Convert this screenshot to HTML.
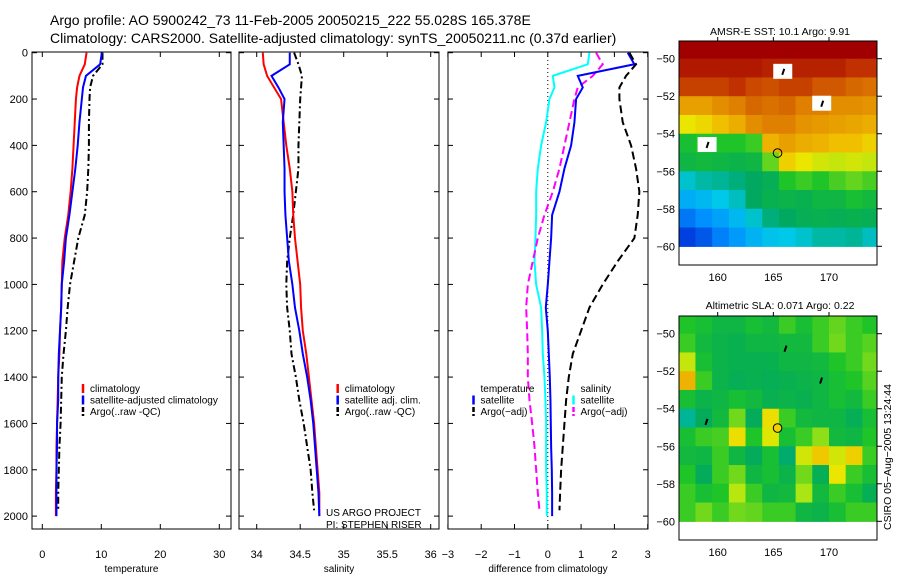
<!DOCTYPE html>
<html><head><meta charset="utf-8"><style>
body{margin:0;background:#fff;}
svg{display:block;font-family:"Liberation Sans",sans-serif;}
</style></head><body>
<svg id="c" width="900" height="580" xmlns="http://www.w3.org/2000/svg">
<text x="50" y="25" font-size="14">Argo profile: AO 5900242_73 11-Feb-2005 20050215_222 55.028S 165.378E</text>
<text x="50" y="43" font-size="14">Climatology: CARS2000. Satellite-adjusted climatology: synTS_20050211.nc (0.37d earlier)</text>
<text x="780" y="35" font-size="10.5" text-anchor="middle">AMSR-E SST: 10.1 Argo: 9.91</text>
<text x="780" y="309" font-size="10.5" text-anchor="middle">Altimetric SLA: 0.071 Argo: 0.22</text>
<text transform="translate(891,530) rotate(-90)" font-size="10.5">CSIRO 05−Aug−2005 13:24:44</text>
<text x="326" y="516" font-size="10">US ARGO PROJECT</text>
<text x="326" y="528" font-size="10">PI: STEPHEN RISER</text>
</svg>
<script>
const depths=[0,50,100,150,200,300,400,500,600,700,800,900,1000,1100,1200,1300,1400,1500,1600,1700,1800,1900,2000];
const tempClim=[7.5,7.2,6.3,5.9,5.7,5.5,5.3,5.1,4.8,4.4,3.8,3.4,3.3,3.2,3.0,2.9,2.7,2.6,2.5,2.4,2.4,2.3,2.3];
const tempSat=[10.1,9.8,7.4,6.9,6.7,6.3,6.0,5.6,5.1,4.6,4.0,3.7,3.3,3.2,3.0,2.8,2.7,2.7,2.5,2.5,2.4,2.4,2.4];
const tempArgo=[10.2,10.2,8.6,8.1,8.0,7.9,7.9,7.8,7.6,7.2,6.1,5.4,4.7,4.3,4.0,3.6,3.3,3.2,3.1,2.9,2.8,2.7,2.7];
const salClim=[34.07,34.08,34.12,34.2,34.28,34.31,34.34,34.38,34.41,34.42,34.44,34.47,34.5,34.51,34.53,34.57,34.6,34.63,34.66,34.68,34.70,34.72,34.72];
const salSat=[34.38,34.38,34.17,34.25,34.32,34.3,34.31,34.32,34.32,34.33,34.35,34.37,34.41,34.44,34.49,34.53,34.58,34.62,34.65,34.67,34.69,34.71,34.72];
const salArgo=[34.43,34.48,34.52,34.51,34.5,34.49,34.48,34.48,34.45,34.42,34.38,34.35,34.34,34.35,34.38,34.4,34.45,34.49,34.54,34.58,34.62,34.64,34.66];
const dTempSat=[2.4,2.6,0.9,1.05,0.85,0.8,0.7,0.5,0.35,0.13,0.1,0.05,0,-0.06,0,0.03,0.06,0.08,0.09,0.1,0.12,0.13,0.13];
const dTempArgo=[2.45,2.65,2.35,2.15,2.15,2.25,2.5,2.65,2.75,2.7,2.6,2.1,1.65,1.25,1.0,0.75,0.63,0.55,0.5,0.45,0.4,0.37,0.35];
const dSalSat=[1.25,1.2,0.15,0.2,0.05,-0.05,-0.2,-0.3,-0.35,-0.35,-0.37,-0.4,-0.35,-0.2,-0.17,-0.15,-0.1,-0.07,-0.05,-0.05,-0.05,-0.03,-0.03];
const dSalArgo=[1.45,1.65,1.35,0.9,0.8,0.65,0.5,0.35,0.15,-0.1,-0.3,-0.45,-0.6,-0.65,-0.62,-0.6,-0.6,-0.55,-0.47,-0.4,-0.35,-0.3,-0.25];
const depthTicks=[0,200,400,600,800,1000,1200,1400,1600,1800,2000];
const tempTicks=[0,10,20,30];
const salTicks=[34,34.5,35,35.5,36];
const diffTicks=[-3,-2,-1,0,1,2,3];
const latTicks=[-50,-52,-54,-56,-58,-60];
const lonTicks=[160,165,170];
const gridLats=[-49.5,-50.5,-51.5,-52.5,-53.5,-54.5,-55.5,-56.5,-57.5,-58.5,-59.5];
const gridLons=[157.25,158.75,160.25,161.75,163.25,164.75,166.25,167.75,169.25,170.75,172.25,173.75];
const sstGrid=[
[10,10,10,10,10,10,10,10,10,10,10,10],
[9.5,9.5,9.5,9.5,9.5,9.3,9.3,9.3,9.3,9.3,9,9],
[8.8,8.8,8.8,9,8.7,8.6,8.8,8.8,8.5,8.5,8.3,8.2],
[7.5,7.5,7.8,8,8.3,8.2,8.3,8,8,7.8,7.8,7.7],
[6.5,6.7,7,7.3,7.8,8,8,7.7,7.6,7.5,7.4,7.3],
[4.8,5,5,5,5.2,7.2,7.5,7.3,7.2,7,7,6.8],
[4.5,4.6,4.5,4.4,4.5,5.5,6.8,6.5,6.3,6.2,6.3,6.2],
[3.2,3.5,3.6,3.8,4,4.2,5,5.2,5,5.3,5.5,5.3],
[2.5,2.7,3,3.3,4,4.3,4.4,4.3,4.5,4.5,4.8,4.6],
[1.7,2,2.3,2.7,3.2,3.8,4,4.2,4.3,4.2,4.3,4.2],
[1,1.3,1.8,2.2,2.6,2.9,3,3.2,3.5,3.5,3.6,3.3]];
const slaGrid=[
[5,4.8,4.5,4.5,4.8,4.6,5.2,4.8,5.2,5.5,5.2,5],
[5.2,4.6,4.4,4.3,4.5,4.5,4.6,4.6,5.2,5.6,5.2,5.4],
[6.2,4.8,4.4,4.3,4.3,4.3,4.5,4.5,4.6,5,5.2,5.6],
[7.2,5.2,4.4,4.2,4.3,4.2,4.3,4.4,4.5,4.8,5,5.4],
[4.8,4.4,4.5,4.8,4.6,4.3,4.4,4.3,4.5,4.8,4.6,5.2],
[3.6,4.1,4.6,5.6,4.1,6.6,5.2,4.6,4.5,4.5,4.2,4.8],
[4.8,5.2,5.3,6.6,5,6.4,4.8,5.2,5.8,4.6,4.5,5],
[4.6,4.5,5.2,4.5,4.1,4.8,3.9,6.3,6.9,6.3,6.8,5.2],
[5,4.1,5.2,5.6,4.5,4.8,4.4,5.6,4.2,6.5,5.2,4.8],
[5.2,4.8,5,6.1,5.2,4.5,4.6,6,4.6,5.2,4.8,4.2],
[5.2,5.6,5.2,5.6,5.5,5.2,5.2,4.5,4.4,4.8,5.2,5.2]];
const argoLon=165.378, argoLat=-55.028;

const NS="http://www.w3.org/2000/svg";
const svg=document.getElementById('c');
function el(t,a,p){const e=document.createElementNS(NS,t);for(const k in a)e.setAttribute(k,a[k]);(p||svg).appendChild(e);return e;}
const yD=d=>52.7+d*0.2317;
const panels=[
 {x0:32,x1:231,xv:v=>42.3+v*5.9,ticks:tempTicks,label:'temperature',name:'temperature'},
 {x0:239,x1:439,xv:v=>256.7+(v-34)*87,ticks:salTicks,label:'salinity',name:'salinity'},
 {x0:448,x1:648,xv:v=>547.8+v*33.3,ticks:diffTicks,label:'difference from climatology',name:'difference'}];
panels.forEach((p,i)=>{
 const g=el('g',{});
 
 
 const r=el('rect',{x:p.x0,y:52,width:p.x1-p.x0,height:477,fill:'none',stroke:'#000','stroke-width':1},g);
 
 
 depthTicks.forEach(d=>{
  el('line',{x1:p.x0,x2:p.x0+5,y1:yD(d),y2:yD(d),stroke:'#000'},g);
  el('line',{x1:p.x1,x2:p.x1-5,y1:yD(d),y2:yD(d),stroke:'#000'},g);
  if(i==0){const t=el('text',{x:28,y:yD(d)+4,'font-size':11,'text-anchor':'end'},g);t.textContent=d;
   
   }
 });
 p.ticks.forEach(v=>{
  const x=p.xv(v);
  el('line',{x1:x,x2:x,y1:52,y2:57,stroke:'#000'},g);
  el('line',{x1:x,x2:x,y1:529,y2:524,stroke:'#000'},g);
  const t=el('text',{x:x,y:558,'font-size':11,'text-anchor':'middle'},g);t.textContent=(v<0?'−'+(-v):v);
  
  
 });
 const xl=el('text',{x:(p.x0+p.x1)/2,y:572,'font-size':10,'text-anchor':'middle'},g);xl.textContent=p.label;
 
 
});
function line(p,vals,color,dash,name,maxD){
 const pts=vals.map((v,k)=>[p.xv(v),yD(Math.min(depths[k],maxD||2000))]);
 const e=el('polyline',{points:pts.map(q=>q.join(',')).join(' '),fill:'none',stroke:color,'stroke-width':2,'stroke-dasharray':dash||'none'});
 
 
}
el('line',{x1:547.8,x2:547.8,y1:52,y2:529,stroke:'#000','stroke-dasharray':'1,3'});
line(panels[0],tempArgo,'#000','7,3,2,3','temp-argo-line',1975);
line(panels[0],tempClim,'#f00',null,'temp-climatology-line');
line(panels[0],tempSat,'#00f',null,'temp-satellite-line');
line(panels[1],salArgo,'#000','7,3,2,3','sal-argo-line',1975);
line(panels[1],salClim,'#f00',null,'sal-climatology-line');
line(panels[1],salSat,'#00f',null,'sal-satellite-line');
line(panels[2],dSalSat,'#0ff',null,'diff-sal-satellite-line');
line(panels[2],dSalArgo,'#f0f','8,4','diff-sal-argo-line',1975);
line(panels[2],dTempSat,'#00f',null,'diff-temp-satellite-line');
line(panels[2],dTempArgo,'#000','8,4','diff-temp-argo-line',1975);
function legend(x,y,items,name){
 const g=el('g',{});
 
 
 items.forEach((it,k)=>{
  const yy=y+k*11.5;
  if(it[0])el('line',{x1:x,x2:x,y1:yy-5,y2:yy+4,stroke:it[0],'stroke-width':2.5,'stroke-dasharray':it[2]||'none'},g);
  const t=el('text',{x:x+7,y:yy+3,'font-size':10},g);t.textContent=it[1];
  
  
 });
}
legend(83,389,[['#f00','climatology'],['#00f','satellite-adjusted climatology'],['#000','Argo(..raw -QC)','5,2']],'temperature-legend');
legend(337.7,389,[['#f00','climatology'],['#00f','satellite adj. clim.'],['#000','Argo(..raw -QC)','5,2']],'salinity-legend');
legend(473.5,389,[[null,'temperature'],['#00f','satellite'],['#000','Argo(−adj)','5,2']],'diff-temp-legend');
legend(573.5,389,[[null,'salinity'],['#0ff','satellite'],['#f0f','Argo(−adj)','5,2']],'diff-sal-legend');

const cstops=[[0,[0,26,128]],[1,[0,64,224]],[2,[0,144,255]],[3,[0,200,232]],[4,[0,168,96]],[5,[30,196,40]],[6,[170,230,20]],[6.5,[235,230,0]],[7,[240,192,0]],[8,[224,128,0]],[9,[192,48,0]],[10,[160,0,0]]];
function cmap(v){for(let i=1;i<cstops.length;i++){if(v<=cstops[i][0]){const a=cstops[i-1],b=cstops[i],f=(v-a[0])/(b[0]-a[0]);return 'rgb('+a[1].map((c,j)=>Math.round(c+(b[1][j]-c)*f)).join(',')+')';}}return 'rgb(160,0,0)';}
function map(top,grid,name,whiteMarks,circleFill){
 const x0=679,x1=877,y1=top+224;
 const lx=l=>717.7+(l-160)*11.13, ly=l=>top+17.7+(-50-l)*18.76;
 const g=el('g',{});
 
 
 const cp=el('clipPath',{id:'cp'+top},g);el('rect',{x:x0,y:top,width:x1-x0,height:224},cp);
 const cg=el('g',{'clip-path':'url(#cp'+top+')'},g);
 grid.forEach((row,r)=>row.forEach((v,c)=>{
  const cx=lx(gridLons[c]-0.75),cy=ly(gridLats[r]+0.5);
  const cell=el('rect',{x:cx,y:cy,width:1.5*11.13+0.6,height:18.76+0.6,fill:cmap(v)},cg);
  
  
 }));
 if(whiteMarks){[[165.8,-50.7],[169.3,-52.4],[159,-54.6]].forEach(m=>{
  el('rect',{x:lx(m[0])-9,y:ly(m[1])-8,width:19,height:15,fill:'#fff'},cg);
  el('line',{x1:lx(m[0]),x2:lx(m[0])+2,y1:ly(m[1])+3,y2:ly(m[1])-3,stroke:'#000','stroke-width':2},cg);});}
 else{[[166,-50.8],[169.2,-52.5],[158.9,-54.7]].forEach(m=>el('line',{x1:lx(m[0]),x2:lx(m[0])+2,y1:ly(m[1])+3,y2:ly(m[1])-3,stroke:'#000','stroke-width':2},cg));}
 const fr=el('rect',{x:x0,y:top,width:x1-x0,height:224,fill:'none',stroke:'#000'},g);
 
 
 latTicks.forEach(l=>{el('line',{x1:x1,x2:x1+5,y1:ly(l),y2:ly(l),stroke:'#000'},g);
  const t=el('text',{x:675,y:ly(l)+4,'font-size':11,'text-anchor':'end'},g);t.textContent='−'+(-l);
  
  });
 lonTicks.forEach(l=>{el('line',{x1:lx(l),x2:lx(l),y1:top,y2:top-4,stroke:'#000'},g);
  const t=el('text',{x:lx(l),y:y1+16,'font-size':11,'text-anchor':'middle'},g);t.textContent=l;
  
  });
 const c=el('circle',{cx:lx(argoLon),cy:ly(argoLat),r:4.3,fill:circleFill,stroke:'#000','stroke-width':1},g);
 
 
}
map(41,sstGrid,'sst-map',true,'none');
map(316,slaGrid,'sla-map',false,'#f0d000');
</script>
</body></html>
